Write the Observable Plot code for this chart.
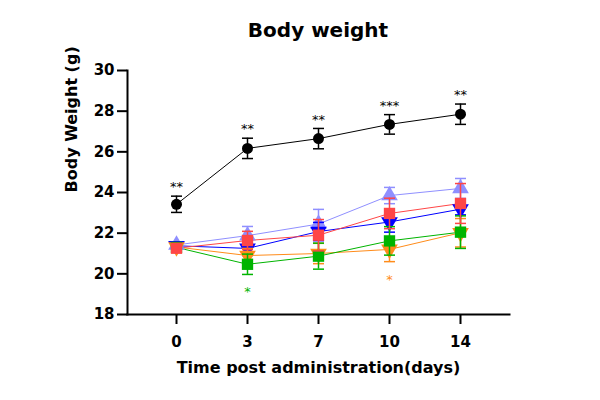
<!DOCTYPE html>
<html><head><meta charset="utf-8">
<script src="https://cdn.jsdelivr.net/npm/d3@7"></script>
<script src="https://cdn.jsdelivr.net/npm/@observablehq/plot@0.6"></script>
<style>
body{margin:0;background:#fff;}
#wrap{position:relative;width:600px;height:400px;font-family:"DejaVu Sans",sans-serif;}
#title{position:absolute;left:318px;top:0;transform:translateX(-50%);font-weight:bold;font-size:20px;line-height:20px;padding-top:20px;white-space:nowrap;color:#000;}
#chart{position:absolute;left:0;top:50px;}
</style></head>
<body><div id="wrap"><div id="title">Body weight</div><div id="chart"></div></div>
<script>
const days = ["0", "3", "7", "10", "14"];
const groups = ["Group 1", "Group 2", "Group 3", "Group 4", "Group 5", "Group 6"];
const colors = ["#000000", "#8f8fff", "#0000ff", "#ff8c1a", "#00b400", "#ff4646"];

const mean1 = [23.42, 26.17, 26.65, 27.35, 27.85];
const sd1   = [0.40, 0.50, 0.50, 0.48, 0.50];
const mean2 = [21.42, 21.88, 22.45, 23.85, 24.20];
const sd2   = [0.15, 0.45, 0.72, 0.40, 0.49];
const mean3 = [21.38, 21.25, 22.08, 22.55, 23.18];
const sd3   = [0.15, 0.35, 0.45, 0.50, 0.28];
const mean4 = [21.32, 20.90, 21.00, 21.20, 22.02];
const sd4   = [0.15, 0.35, 0.50, 0.60, 0.70];
const mean5 = [21.30, 20.47, 20.87, 21.62, 22.05];
const sd5   = [0.15, 0.50, 0.64, 0.70, 0.80];
const mean6 = [21.26, 21.64, 21.90, 22.97, 23.46];
const sd6   = [0.15, 0.45, 0.77, 0.75, 0.98];

const sig1 = ["**", "**", "**", "***", "**"];
const sig4 = ["", "", "", "*", ""];
const sig5 = ["", "*", "", "", ""];

const yTicks = [18, 20, 22, 24, 26, 28, 30];

const means = [mean1, mean2, mean3, mean4, mean5, mean6];
const sds = [sd1, sd2, sd3, sd4, sd5, sd6];

const downTri = {draw(ctx, size) {
  const y = -Math.sqrt(size / (3 * Math.sqrt(3)));
  ctx.moveTo(0, -y * 2);
  ctx.lineTo(-Math.sqrt(3) * y, y);
  ctx.lineTo(Math.sqrt(3) * y, y);
  ctx.closePath();
}};
const capSym = {draw(ctx) { ctx.moveTo(-5.5, 0); ctx.lineTo(5.5, 0); }};
const symbols = ["circle", "triangle", downTri, downTri, "square", "square"];
const radii = [5.5, 6.2, 6.2, 6.2, 6.4, 6.4];

const rowsBy = groups.map((g, gi) => days.map((d, i) => ({group: g, day: d, mean: means[gi][i], sd: sds[gi][i]})));

const marks = [];
groups.forEach((g, gi) => {
  const rows = rowsBy[gi];
  const c = colors[gi];
  marks.push(Plot.line(rows, {x: "day", y: "mean", stroke: c, strokeWidth: 1}));
});
groups.forEach((g, gi) => {
  const rows = rowsBy[gi];
  const c = colors[gi];
  marks.push(Plot.ruleX(rows, {x: "day", y1: d => d.mean - d.sd, y2: d => d.mean + d.sd, stroke: c, strokeWidth: 1.5}));
  marks.push(Plot.dot(rows, {x: "day", y: d => d.mean - d.sd, symbol: capSym, stroke: c, strokeWidth: 1.5, fill: "none"}));
  marks.push(Plot.dot(rows, {x: "day", y: d => d.mean + d.sd, symbol: capSym, stroke: c, strokeWidth: 1.5, fill: "none"}));
  marks.push(Plot.dot(rows, {x: "day", y: "mean", symbol: symbols[gi], r: radii[gi], fill: c, stroke: "none"}));
});

const sigRows1 = rowsBy[0].map((r, i) => ({...r, label: sig1[i]})).filter(r => r.label);
const sigRows4 = rowsBy[3].map((r, i) => ({...r, label: sig4[i]})).filter(r => r.label);
const sigRows5 = rowsBy[4].map((r, i) => ({...r, label: sig5[i]})).filter(r => r.label);

marks.push(Plot.text(sigRows1, {x: "day", y: d => d.mean + d.sd, text: "label", dy: -9, fill: colors[0], fontSize: 13, fontWeight: "normal"}));
marks.push(Plot.text(sigRows4, {x: "day", y: d => d.mean - d.sd, text: "label", dy: 18, fill: colors[3], fontSize: 13, fontWeight: "normal"}));
marks.push(Plot.text(sigRows5, {x: "day", y: d => d.mean - d.sd, text: "label", dy: 17, fill: colors[4], fontSize: 13, fontWeight: "normal"}));

marks.push(Plot.frame({anchor: "left", stroke: "#000", strokeWidth: 2}));
marks.push(Plot.frame({anchor: "bottom", stroke: "#000", strokeWidth: 2}));
marks.push(Plot.axisY({ticks: yTicks, tickSize: 10, tickPadding: 3, strokeWidth: 2, label: null}));
marks.push(Plot.axisX({tickSize: 10, tickPadding: 12, strokeWidth: 2, label: null}));
marks.push(Plot.text(["Body Weight (g)"], {frameAnchor: "left", rotate: -90, dx: -56, fontSize: 16, fontWeight: "bold"}));
marks.push(Plot.text(["Time post administration(days)"], {frameAnchor: "bottom", dy: 58, fontSize: 16, fontWeight: "bold"}));

const chart = Plot.plot({
  width: 600,
  height: 350,
  marginLeft: 127,
  marginRight: 91,
  marginTop: 20,
  marginBottom: 86,
  style: {fontFamily: "'DejaVu Sans', sans-serif", fontSize: "15px", fontWeight: "bold", color: "#000", background: "#fff", overflow: "visible"},
  x: {type: "point", domain: days, padding: 0.66},
  y: {domain: [18, 30]},
  marks
});
document.getElementById("chart").appendChild(chart);
</script>
</body></html>
